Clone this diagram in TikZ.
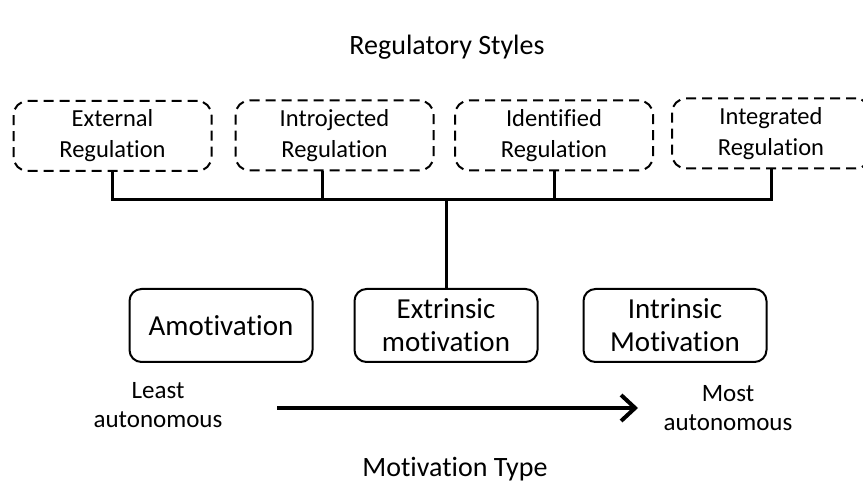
\documentclass[tikz,border=0pt]{standalone}
\usepackage{fontspec}
\setmainfont{Carlito}[Ligatures=NoCommon]
\usepackage{tikz}
\usetikzlibrary{arrows.meta, positioning}

\begin{document}
\begin{tikzpicture}[x=1pt, y=1pt,
        regbox/.style={draw, line width=2pt, dash pattern=on 10pt off 6pt,
            rounded corners=14pt, minimum width=198pt, minimum height=70pt,
            align=center, font=\fontsize{24.5}{31}\selectfont},
        motbox/.style={draw, line width=2pt, rounded corners=12pt,
            minimum width=183pt, minimum height=73pt,
            align=center, font=\fontsize{29}{33}\selectfont},
        note/.style={align=center, font=\fontsize{25}{29}\selectfont},
        heading/.style={font=\fontsize{28}{33}\selectfont},
        link/.style={line width=3pt},
        >={Straight Barb[length=14pt, width=26pt]}]
    \useasboundingbox (0,0) rectangle (863,484);
    \node[heading] at (447,437) (title) {Regulatory Styles};
    % regulatory styles
    \node[regbox] at (112.5,348) (reg1) {External\\Regulation};
    \node[regbox] at (334.5,348.5) (reg2) {Introjected\\Regulation};
    \node[regbox] at (554,348.5) (reg3) {Identified\\Regulation};
    \node[regbox] at (771,350.5) (reg4) {Integrated\\Regulation};
    % motivation types
    \node[motbox] at (221,158.5) (amot) {Amotivation};
    \node[motbox] at (446,158.5) (extr) {Extrinsic\\motivation};
    \node[motbox] at (675,158.5) (intr) {Intrinsic\\Motivation};
    \coordinate (bar) at (446,284);
    \draw[link] (reg1.south) |- (bar) -| (reg4.south);
    \draw[link] ([xshift=-12.5pt]reg2.south) -- ([xshift=-12.5pt]reg2.south |- bar);
    \draw[link] (reg3.south) -- (reg3.south |- bar);
    \draw[link] (extr.north) -- (bar);
    % autonomy scale
    \node[note] at (158,79) (least) {Least\\autonomous};
    \node[note] at (728,76) (most) {Most\\autonomous};
    \coordinate (lo) at (277,76);
    \coordinate (hi) at (638,76);
    \draw[->, line width=4pt] (lo) -- (hi);
    \node[heading] at (455,15) (mtype) {Motivation Type};
\end{tikzpicture}
\end{document}
